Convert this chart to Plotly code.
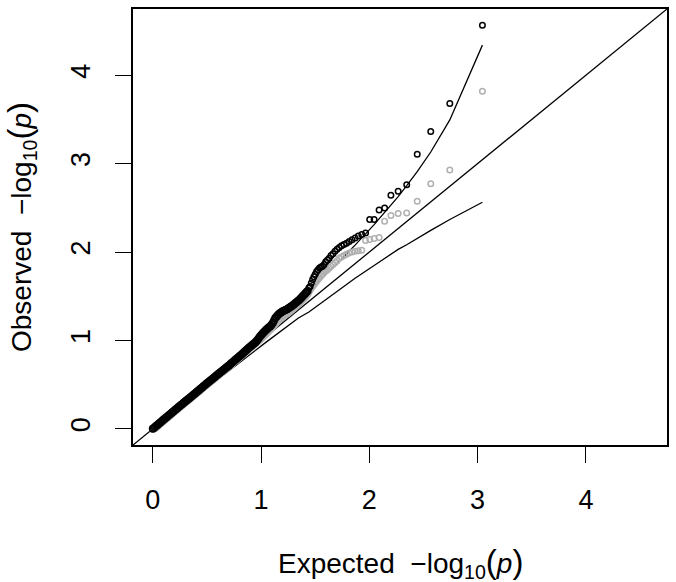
import plotly.graph_objects as go

# ---- data ----------------------------------------------------------------
# Expected -log10(p): the 40 largest (distinct points in the tail)
expected_tail = [
    3.044, 2.743, 2.567, 2.442, 2.345, 2.266, 2.199, 2.141, 2.090, 2.044,
    2.003, 1.965, 1.930, 1.898, 1.868, 1.840, 1.814, 1.789, 1.765, 1.743,
    1.722, 1.702, 1.683, 1.664, 1.646, 1.629, 1.613, 1.597, 1.582, 1.567,
    1.553, 1.539, 1.526, 1.513, 1.500, 1.488, 1.476, 1.464, 1.453, 1.442,
]
observed_black_tail = [
    4.566, 3.680, 3.363, 3.107, 2.762, 2.687, 2.641, 2.498, 2.476, 2.368,
    2.368, 2.216, 2.198, 2.180, 2.160, 2.140, 2.120, 2.100, 2.085, 2.070,
    2.050, 2.030, 2.010, 1.980, 1.960, 1.930, 1.910, 1.890, 1.860, 1.840,
    1.830, 1.820, 1.800, 1.780, 1.750, 1.720, 1.690, 1.650, 1.610, 1.595,
]
observed_grey_tail = [
    3.817, 2.927, 2.773, 2.574, 2.440, 2.435, 2.413, 2.348, 2.165, 2.153,
    2.142, 2.130, 2.020, 2.015, 2.010, 2.000, 1.990, 1.975, 1.960, 1.945,
    1.930, 1.900, 1.880, 1.860, 1.840, 1.820, 1.800, 1.785, 1.770, 1.750,
    1.730, 1.710, 1.690, 1.670, 1.650, 1.630, 1.610, 1.590, 1.570, 1.550,
]

# Dense bulk (points overlap into a solid band), read along the band
expected_bulk = [
    1.43, 1.42, 1.41, 1.40, 1.39, 1.38, 1.37, 1.36, 1.35, 1.34, 1.33, 1.32,
    1.31, 1.30, 1.29, 1.28, 1.27, 1.26, 1.25, 1.24, 1.23, 1.22, 1.21, 1.20,
    1.19, 1.18, 1.17, 1.16, 1.15, 1.14, 1.13, 1.12, 1.11, 1.10, 1.09, 1.08,
    1.07, 1.06, 1.05, 1.04, 1.03, 1.02, 1.01, 1.00, 0.99, 0.98, 0.97, 0.96,
    0.95, 0.94, 0.93, 0.92, 0.91, 0.90, 0.89, 0.88, 0.87, 0.86, 0.85, 0.84,
    0.83, 0.82, 0.81, 0.80, 0.79, 0.78, 0.77, 0.76, 0.75, 0.74, 0.73, 0.72,
    0.71, 0.70, 0.69, 0.68, 0.67, 0.66, 0.65, 0.64, 0.63, 0.62, 0.61, 0.60,
    0.59, 0.58, 0.57, 0.56, 0.55, 0.54, 0.53, 0.52, 0.51, 0.50, 0.49, 0.48,
    0.47, 0.46, 0.45, 0.44, 0.43, 0.42, 0.41, 0.40, 0.39, 0.38, 0.37, 0.36,
    0.35, 0.34, 0.33, 0.32, 0.31, 0.30, 0.29, 0.28, 0.27, 0.26, 0.25, 0.24,
    0.23, 0.22, 0.21, 0.20, 0.19, 0.18, 0.17, 0.16, 0.15, 0.14, 0.13, 0.12,
    0.11, 0.10, 0.09, 0.08, 0.07, 0.06, 0.05, 0.04, 0.03, 0.02, 0.01, 0.00,
]
observed_black_bulk = [
    1.560, 1.547, 1.533, 1.520, 1.507, 1.494, 1.481, 1.468, 1.455, 1.445, 1.435, 1.425,
    1.415, 1.405, 1.396, 1.387, 1.378, 1.369, 1.360, 1.354, 1.348, 1.342, 1.336, 1.330,
    1.322, 1.313, 1.305, 1.293, 1.280, 1.265, 1.250, 1.225, 1.200, 1.183, 1.165, 1.155,
    1.145, 1.135, 1.125, 1.112, 1.099, 1.086, 1.073, 1.060, 1.044, 1.028, 1.012, 0.996,
    0.980, 0.970, 0.960, 0.950, 0.940, 0.930, 0.919, 0.908, 0.897, 0.886, 0.875, 0.864,
    0.853, 0.842, 0.831, 0.820, 0.810, 0.799, 0.789, 0.778, 0.768, 0.757, 0.747, 0.736,
    0.726, 0.715, 0.705, 0.695, 0.685, 0.675, 0.665, 0.655, 0.645, 0.635, 0.625, 0.615,
    0.605, 0.595, 0.585, 0.575, 0.565, 0.555, 0.545, 0.535, 0.525, 0.515, 0.504, 0.494,
    0.484, 0.473, 0.463, 0.453, 0.442, 0.432, 0.422, 0.412, 0.401, 0.391, 0.381, 0.370,
    0.360, 0.350, 0.340, 0.330, 0.320, 0.310, 0.300, 0.290, 0.279, 0.269, 0.259, 0.249,
    0.238, 0.228, 0.218, 0.208, 0.197, 0.187, 0.176, 0.166, 0.156, 0.145, 0.135, 0.125,
    0.115, 0.105, 0.094, 0.084, 0.073, 0.063, 0.052, 0.042, 0.031, 0.021, 0.010, 0.000,
]
observed_grey_bulk = [
    1.530, 1.515, 1.500, 1.487, 1.474, 1.461, 1.448, 1.435, 1.422, 1.411, 1.400, 1.389,
    1.378, 1.367, 1.357, 1.347, 1.337, 1.327, 1.317, 1.308, 1.299, 1.290, 1.281, 1.272,
    1.262, 1.252, 1.242, 1.230, 1.218, 1.205, 1.192, 1.178, 1.164, 1.150, 1.137, 1.124,
    1.111, 1.098, 1.086, 1.074, 1.062, 1.050, 1.038, 1.026, 1.014, 1.002, 0.992, 0.984,
    0.970, 0.960, 0.950, 0.940, 0.930, 0.920, 0.909, 0.898, 0.887, 0.876, 0.865, 0.854,
    0.843, 0.832, 0.821, 0.810, 0.800, 0.789, 0.779, 0.768, 0.758, 0.747, 0.737, 0.726,
    0.716, 0.705, 0.695, 0.685, 0.675, 0.665, 0.655, 0.645, 0.635, 0.625, 0.615, 0.605,
    0.595, 0.585, 0.575, 0.565, 0.555, 0.545, 0.535, 0.525, 0.515, 0.505, 0.494, 0.484,
    0.474, 0.463, 0.453, 0.443, 0.432, 0.422, 0.412, 0.402, 0.391, 0.381, 0.371, 0.360,
    0.350, 0.340, 0.330, 0.320, 0.310, 0.300, 0.290, 0.280, 0.269, 0.259, 0.249, 0.239,
    0.228, 0.218, 0.208, 0.198, 0.187, 0.177, 0.166, 0.156, 0.146, 0.135, 0.125, 0.115,
    0.105, 0.095, 0.084, 0.074, 0.063, 0.053, 0.042, 0.032, 0.021, 0.011, 0.005, 0.000,
]

# Confidence band curves
band_x = [0.0, 0.2, 0.442, 0.743, 1.044, 1.345, 1.442, 1.567, 1.743, 1.868,
          2.044, 2.141, 2.199, 2.266, 2.345, 2.442, 2.567, 2.743, 3.044]
band_upper = [0.0, 0.22, 0.481, 0.797, 1.119, 1.453, 1.564, 1.71, 1.922, 2.078,
              2.31, 2.444, 2.527, 2.627, 2.75, 2.909, 3.131, 3.494, 4.34]
band_lower = [0.0, 0.185, 0.408, 0.694, 0.978, 1.254, 1.322, 1.434, 1.599, 1.704,
              1.848, 1.93, 1.98, 2.03, 2.082, 2.155, 2.245, 2.368, 2.563]

tick_vals = [0, 1, 2, 3, 4]
tick_text = ["0", "1", "2", "3", "4"]

PAREN = '<span style="font-size:33px">{}</span>'
x_title = ("Expected  \u2212log<sub>10</sub>" + PAREN.format("(") + "<i>p</i>"
           + PAREN.format(")"))
y_title = ("Observed  \u2212log<sub>10</sub>" + PAREN.format("(") + "<i>p</i>"
           + PAREN.format(")"))

# R-style axis limits: c(0, max) extended by 4% on both sides
m = max(observed_black_tail + observed_black_bulk)
lo, hi = -0.04 * m, 1.04 * m

FONT = "Liberation Sans, Arial, Helvetica, sans-serif"
LINE = dict(color="black", width=1.3)
GREY = "#b0b0b0"


def pts(x, y, color, size):
    return go.Scatter(x=x, y=y, mode="markers", hoverinfo="skip",
                      marker=dict(symbol="circle-open", size=size, color=color,
                                  line=dict(width=1.5, color=color)))


fig = go.Figure()
fig.add_trace(go.Scatter(x=[lo, hi], y=[lo, hi], mode="lines", line=LINE,
                         hoverinfo="skip"))
fig.add_trace(go.Scatter(x=band_x, y=band_upper, mode="lines", line=LINE,
                         hoverinfo="skip"))
fig.add_trace(go.Scatter(x=band_x, y=band_lower, mode="lines", line=LINE,
                         hoverinfo="skip"))
fig.add_trace(pts(expected_bulk, observed_grey_bulk, GREY, 6.5))
fig.add_trace(pts(expected_tail, observed_grey_tail, GREY, 5.5))
fig.add_trace(pts(expected_bulk, observed_black_bulk, "black", 6.5))
fig.add_trace(pts(expected_tail, observed_black_tail, "black", 5.5))

axis_common = dict(
    range=[lo, hi], tickvals=tick_vals, ticktext=tick_text,
    ticks="outside", ticklen=16, tickwidth=1.3, tickcolor="black",
    showline=True, linecolor="black", linewidth=1.5, mirror=True,
    showgrid=False, zeroline=False,
    tickfont=dict(family=FONT, size=27, color="black"),
)

fig.update_layout(
    width=676, height=582,
    margin=dict(l=133, r=8, t=7, b=137),
    paper_bgcolor="white", plot_bgcolor="white",
    showlegend=False,
    font=dict(family=FONT, color="black"),
    xaxis=dict(**axis_common, ticklabelstandoff=14),
    yaxis=dict(**axis_common, tickangle=-90, ticklabelstandoff=14),
    annotations=[
        dict(text=x_title, xref="paper", yref="paper", x=0.5, y=0,
             xanchor="center", yanchor="top", yshift=-96, showarrow=False,
             font=dict(family=FONT, size=28, color="black")),
        dict(text=y_title, xref="paper", yref="paper", x=0, y=0.5,
             xanchor="center", yanchor="middle", xshift=-112, textangle=-90,
             showarrow=False,
             font=dict(family=FONT, size=28, color="black")),
    ],
)

fig.write_html("out.html", config={"displayModeBar": False},
               post_script="document.body.style.margin='0px';")
